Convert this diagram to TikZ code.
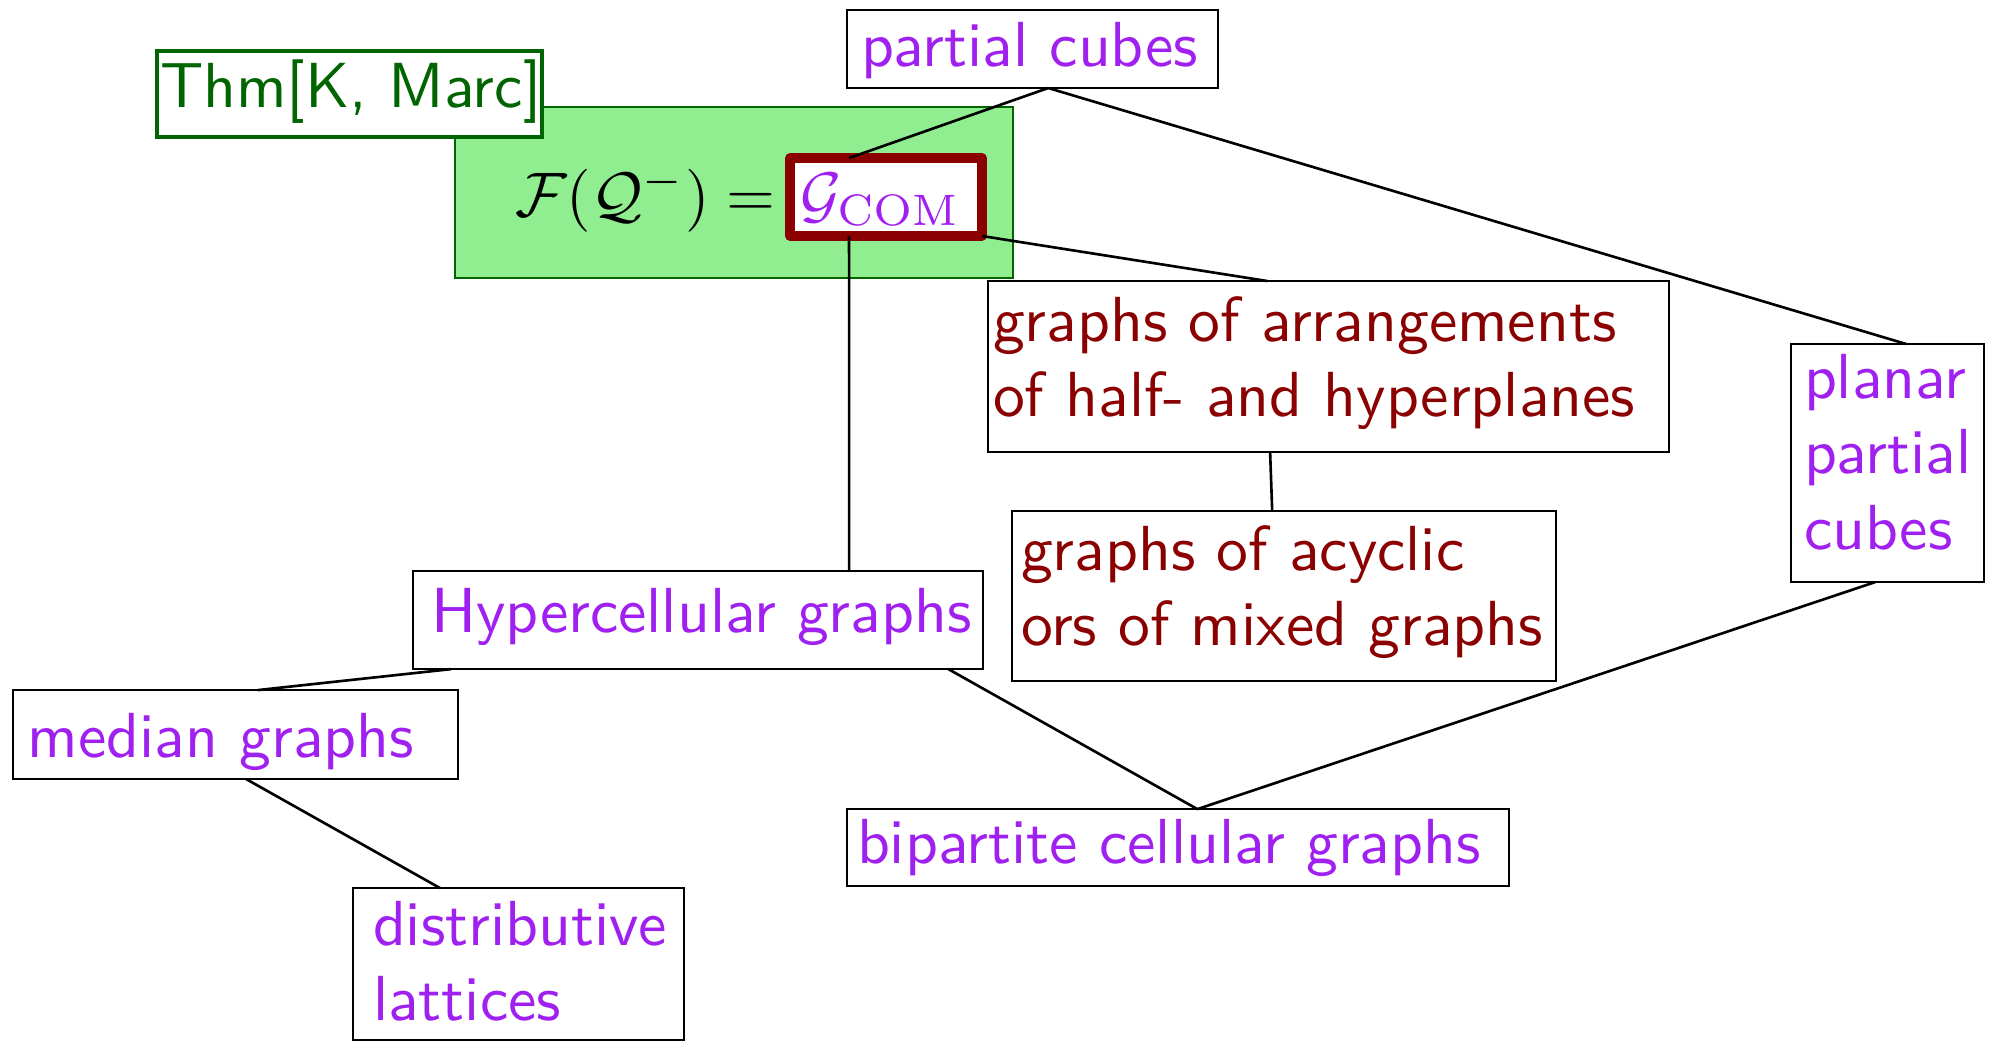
\documentclass[tikz,border=0pt]{standalone}
\usetikzlibrary{calc}
\definecolor{vio}{RGB}{160,32,240}
\definecolor{dred}{RGB}{139,0,0}
\definecolor{dgreen}{RGB}{0,100,0}
\definecolor{lgreen}{RGB}{144,238,144}
\newdimen\pu \pu=0.0558659mm
\tikzset{
  box/.style={draw, line width=0.8pt, fill=white, anchor=north west, outer sep=0pt,
    inner ysep=0pt, align=left, font=\sffamily\fontsize{10.12}{12}\selectfont},
  link/.style={draw, line width=0.75pt, black}
}
\begin{document}
\begin{tikzpicture}[x=\pu, y=-\pu, scale=1.79, transform shape]
\useasboundingbox (0,0) rectangle (1991,1040);
% green background
\node[draw=dgreen, fill=lgreen, line width=0.6pt, anchor=north west, inner sep=0pt, outer sep=0pt,
  minimum width=558\pu, minimum height=171\pu] (green) at (455,107) {};
\node[box, draw=dgreen, text=dgreen, line width=0.9pt, inner xsep=3\pu, text width=379\pu,
  text height=56\pu, text depth=30\pu] (thm) at (157,51) {Thm[K,~Marc]};
\node[anchor=base east, inner sep=0pt, outer sep=0pt] (formula) at (776,216) {$\mathcal{F}(\mathcal{Q}^-) =$};
\node[box, draw=dred, line width=2.7pt, line join=round, text=vio, inner xsep=10\pu, text width=172\pu,
  text height=58\pu, text depth=20\pu] (gcom) at (790,158) {$\mathcal{G}_{\mathrm{COM}}$};
% boxes
\node[box, text=vio, inner xsep=14\pu, text width=343\pu, text height=56\pu, text depth=22\pu]
  (partial) at (847,10) {partial~cubes};
\node[box, text=dred, inner xsep=5\pu, text width=671\pu, text height=60\pu, text depth=111\pu]
  (arr) at (988,281) {graphs of arrangements\\of half- and hyperplanes};
\node[box, text=dred, inner xsep=9\pu, text width=526\pu, text height=59\pu, text depth=111\pu]
  (acyc) at (1012,511) {graphs of acyclic\\ors of mixed graphs};
\node[box, text=vio, inner xsep=13\pu, text width=167\pu, text height=54\pu, text depth=184\pu]
  (planar) at (1791,344) {planar\\partial\\cubes};
\node[box, text=vio, inner xsep=18\pu, text width=534\pu, text height=61\pu, text depth=37\pu]
  (hyper) at (413,571) {Hypercellular~graphs};
\node[box, text=vio, inner xsep=15\pu, text width=415\pu, text height=67\pu, text depth=22\pu]
  (median) at (13,690) {median~graphs};
\node[box, text=vio, inner xsep=20\pu, text width=291\pu, text height=57\pu, text depth=95\pu]
  (distr) at (353,888) {distributive\\lattices};
\node[box, text=vio, inner xsep=10\pu, text width=642\pu, text height=54\pu, text depth=23\pu]
  (bip) at (847,809) {bipartite~cellular~graphs};
% connectors
\draw[link] ($(partial.south west)!0.542!(partial.south east)$) -- ($(gcom.north west)!0.307!(gcom.north east)$);
\draw[link] ($(partial.south west)!0.542!(partial.south east)$) -- ($(planar.north west)!0.596!(planar.north east)$);
\draw[link] (gcom.south east) -- ($(arr.north west)!0.41!(arr.north east)$);
\draw[link] ($(gcom.south west)!0.307!(gcom.south east)$) -- ($(hyper.north west)!0.765!(hyper.north east)$);
\draw[link] ($(arr.south west)!0.414!(arr.south east)$) -- ($(acyc.north west)!0.478!(acyc.north east)$);
\draw[link] ($(hyper.south west)!0.067!(hyper.south east)$) -- ($(median.north west)!0.55!(median.north east)$);
\draw[link] ($(hyper.south west)!0.939!(hyper.south east)$) -- ($(bip.north west)!0.529!(bip.north east)$);
\draw[link] ($(planar.south west)!0.435!(planar.south east)$) -- ($(bip.north west)!0.529!(bip.north east)$);
\draw[link] ($(median.south west)!0.524!(median.south east)$) -- ($(distr.north west)!0.263!(distr.north east)$);
\end{tikzpicture}
\end{document}
